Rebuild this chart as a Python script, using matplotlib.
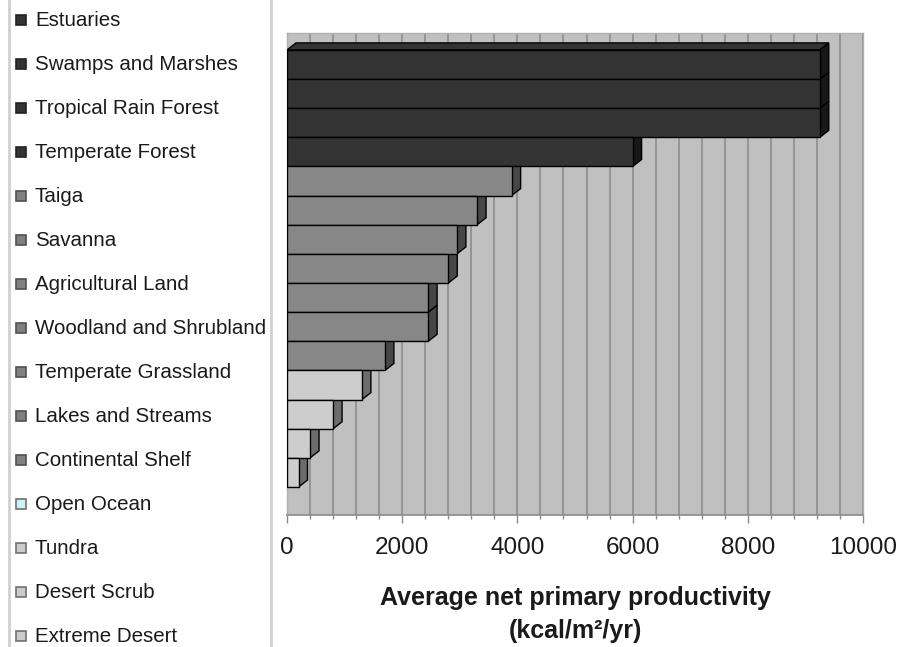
import matplotlib
matplotlib.use('Agg')
import matplotlib.pyplot as plt
from matplotlib.patches import Polygon, Rectangle
from matplotlib.ticker import FixedLocator, MultipleLocator

plt.rcParams['font.family'] = ['Liberation Sans', 'DejaVu Sans']

# ---------------- data ----------------
categories = ['Estuaries', 'Swamps and Marshes', 'Tropical Rain Forest',
              'Temperate Forest', 'Taiga', 'Savanna', 'Agricultural Land',
              'Woodland and Shrubland', 'Temperate Grassland',
              'Lakes and Streams', 'Continental Shelf', 'Open Ocean',
              'Tundra', 'Desert Scrub', 'Extreme Desert']
npp = [9250, 9250, 9250, 6000, 3900, 3300, 2950, 2800, 2450, 2450,
       1700, 1300, 800, 400, 200]
group = ['high'] * 4 + ['medium'] * 7 + ['low'] * 4
x_ticks = [0, 2000, 4000, 6000, 8000, 10000]
x_label = 'Average net primary productivity\n(kcal/m\u00b2/yr)'

# ---------------- styles ----------------
front_col = {'high': '#333333', 'medium': '#878787', 'low': '#cdcdcd'}
side_col = {'high': '#171717', 'medium': '#474747', 'low': '#6c6c6c'}
legend_face = {'high': '#333333', 'medium': '#808080', 'low': '#cccccc'}
legend_edge = {'high': '#222222', 'medium': '#505050', 'low': '#707070'}
special_legend_face = {'Open Ocean': '#cdf5f5'}

W, H = 903, 647
fig = plt.figure(figsize=(W / 100, H / 100), dpi=100)
fig.patch.set_facecolor('white')

# ---------------- main axes ----------------
ax = fig.add_axes([287 / W, 1 - 515 / H, 576 / W, 482 / H])
ax.set_facecolor('#c0c0c0')
n = len(categories)
ypos = list(range(n))
ax.set_xlim(0, 10000)
ax.set_ylim(n - 0.5 + 0.96, -0.5 - 0.58)

dx, dy = 156, 0.24  # 3-D depth offset (data units)
ax.barh(ypos, npp, height=1.0, left=0,
        color=[front_col[g] for g in group], edgecolor='black',
        linewidth=1.0, zorder=5)
for i in range(n - 1, -1, -1):
    v = npp[i]
    g = group[i]
    z = 3 + (n - i) * 0.01
    top = Polygon([(0, i - 0.5), (dx, i - 0.5 - dy), (v + dx, i - 0.5 - dy),
                   (v, i - 0.5)], closed=True, facecolor=front_col[g],
                  edgecolor='black', linewidth=1.0, zorder=z)
    side = Polygon([(v, i - 0.5), (v + dx, i - 0.5 - dy),
                    (v + dx, i + 0.5 - dy), (v, i + 0.5)], closed=True,
                   facecolor=side_col[g], edgecolor='black', linewidth=1.0,
                   zorder=z)
    ax.add_patch(top)
    ax.add_patch(side)

ax.xaxis.set_major_locator(FixedLocator(x_ticks))
ax.xaxis.set_minor_locator(MultipleLocator(400))
ax.set_yticks([])
ax.grid(which='both', axis='x', color='#888888', linewidth=1.1, zorder=0.5)
ax.set_axisbelow(True)
ax.tick_params(axis='x', which='major', length=6, width=1, color='#8a8a8a',
               labelsize=17.5, pad=10, labelcolor='#1a1a1a')
ax.tick_params(axis='x', which='minor', length=3, width=1, color='#8a8a8a')
for s in ['top', 'left', 'right']:
    ax.spines[s].set_color('#b0b0b0')
    ax.spines[s].set_linewidth(1.0)
ax.spines['bottom'].set_color('#8a8a8a')
ax.spines['bottom'].set_linewidth(1.2)
ax.set_xlabel(x_label, fontsize=18, fontweight='bold', color='#1a1a1a',
              labelpad=19, linespacing=1.5)

# ---------------- legend panel ----------------
lax = fig.add_axes([0, 0, 1, 1], zorder=-1)
lax.set_xlim(0, W)
lax.set_ylim(H, 0)
lax.axis('off')
lax.plot([9, 9], [0, H], color='#d0d0d0', linewidth=2)
lax.plot([271, 271], [0, H], color='#d0d0d0', linewidth=2)
row0, step = 20, 44
for i, (name, g) in enumerate(zip(categories, group)):
    yc = row0 + step * i
    fc = special_legend_face.get(name, legend_face[g])
    lax.add_patch(Rectangle((16, yc - 5), 10, 10, facecolor=fc,
                            edgecolor=legend_edge[g], linewidth=1.2))
    lax.text(35, yc, name, fontsize=14.8, va='center', ha='left',
             color='#1a1a1a')

fig.savefig('out.png', dpi=100)
